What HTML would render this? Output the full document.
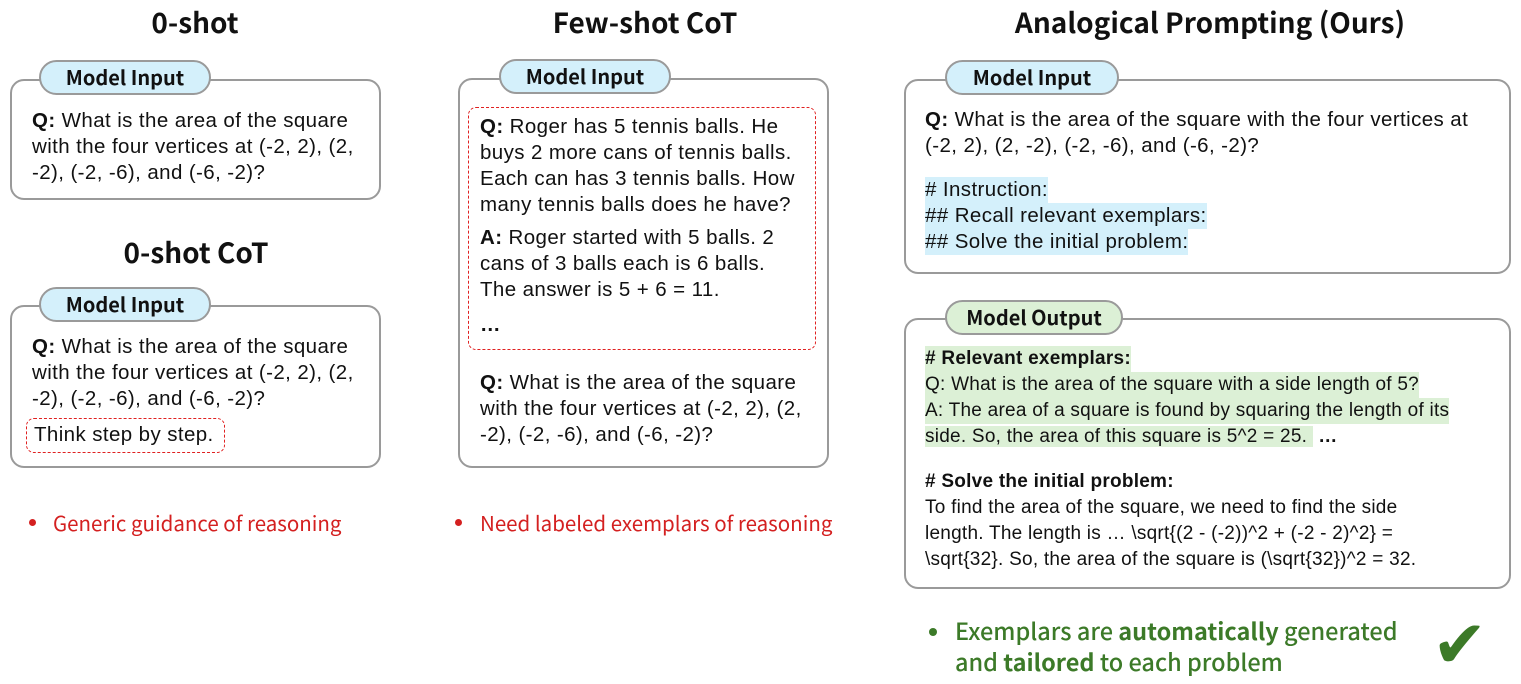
<!DOCTYPE html>
<html><head><meta charset="utf-8"><style>
body{margin:0;width:1521px;height:684px;background:#fff;position:relative;overflow:hidden;font-family:"Liberation Sans",Arial,sans-serif;color:#111}
.a{position:absolute}
.t{position:absolute;font-family:"Noto Sans CJK JP","Liberation Sans",sans-serif;font-weight:bold;font-size:28px;transform:translateX(-50%);white-space:nowrap;line-height:1}
.box{position:absolute;border:2.5px solid #9a9a9a;border-radius:14px;box-sizing:border-box;background:#fff}
.pill{position:absolute;border:2.5px solid #9a9a9a;border-radius:18px;box-sizing:border-box;background:#d4f0fb;font-family:"Noto Sans CJK JP","Liberation Sans",sans-serif;font-weight:bold;font-size:20px;text-align:center;line-height:29px}
.g{background:#dcf0d6}
.l{position:absolute;font-size:20.5px;letter-spacing:0.4px;white-space:nowrap;line-height:25px}
.o{font-size:19px;letter-spacing:0.25px}
.hb{background:#d4f0fb}.hg{background:#dcf0d6}
.dash{position:absolute;border:1.8px dashed #e02020;border-radius:8px;box-sizing:border-box}
.bul{position:absolute;font-family:"Noto Sans CJK JP","Liberation Sans",sans-serif;font-size:20.5px;color:#d42020;white-space:nowrap;line-height:30px}
.dot{position:absolute;width:7px;height:7px;border-radius:50%}
.gr{color:#3c7a28;font-size:23.5px;font-weight:500}
</style></head><body>
<div class="t" style="left:195px;top:8px">0-shot</div>
<div class="t" style="left:645px;top:8px">Few-shot CoT</div>
<div class="t" style="left:1210px;top:8px">Analogical Prompting (Ours)</div>
<div class="t" style="left:196px;top:238px">0-shot CoT</div>

<div class="box" style="left:10px;top:79px;width:371px;height:121px"></div>
<div class="pill" style="left:39px;top:60px;width:172px;height:35px">Model Input</div>
<div class="l" style="left:32px;top:108px"><b>Q:</b> What is the area of the square</div>
<div class="l" style="left:32px;top:134px">with the four vertices at (-2, 2), (2,</div>
<div class="l" style="left:32px;top:160px">-2), (-2, -6), and (-6, -2)?</div>

<div class="box" style="left:10px;top:305px;width:371px;height:163px"></div>
<div class="pill" style="left:39px;top:287px;width:172px;height:35px">Model Input</div>
<div class="l" style="left:32px;top:334px"><b>Q:</b> What is the area of the square</div>
<div class="l" style="left:32px;top:360px">with the four vertices at (-2, 2), (2,</div>
<div class="l" style="left:32px;top:386px">-2), (-2, -6), and (-6, -2)?</div>
<div class="dash" style="left:26px;top:418px;width:199px;height:35px"></div>
<div class="l" style="left:34px;top:422px">Think step by step.</div>
<div class="dot" style="left:29px;top:519px;background:#d42020"></div>
<div class="bul" style="left:53px;top:507px">Generic guidance of reasoning</div>

<div class="box" style="left:458px;top:78px;width:371px;height:390px"></div>
<div class="pill" style="left:499px;top:59px;width:172px;height:35px">Model Input</div>
<div class="dash" style="left:468px;top:107px;width:348px;height:243px"></div>
<div class="l" style="left:480px;top:114px"><b>Q:</b> Roger has 5 tennis balls. He</div>
<div class="l" style="left:480px;top:140px">buys 2 more cans of tennis balls.</div>
<div class="l" style="left:480px;top:166px">Each can has 3 tennis balls. How</div>
<div class="l" style="left:480px;top:192px">many tennis balls does he have?</div>
<div class="l" style="left:480px;top:225px"><b>A:</b> Roger started with 5 balls. 2</div>
<div class="l" style="left:480px;top:251px">cans of 3 balls each is 6 balls.</div>
<div class="l" style="left:480px;top:277px">The answer is 5 + 6 = 11.</div>
<div class="l" style="left:480px;top:312px"><b>…</b></div>
<div class="l" style="left:480px;top:370px"><b>Q:</b> What is the area of the square</div>
<div class="l" style="left:480px;top:396px">with the four vertices at (-2, 2), (2,</div>
<div class="l" style="left:480px;top:422px">-2), (-2, -6), and (-6, -2)?</div>
<div class="dot" style="left:455px;top:519px;background:#d42020"></div>
<div class="bul" style="left:480px;top:507px">Need labeled exemplars of reasoning</div>

<div class="box" style="left:904px;top:79px;width:607px;height:195px"></div>
<div class="pill" style="left:945px;top:60px;width:174px;height:35px">Model Input</div>
<div class="l" style="left:925px;top:107px"><b>Q:</b> What is the area of the square with the four vertices at</div>
<div class="l" style="left:925px;top:133px">(-2, 2), (2, -2), (-2, -6), and (-6, -2)?</div>
<div class="l hb" style="left:925px;top:177px;line-height:26px">#&nbsp;Instruction:</div>
<div class="l hb" style="left:925px;top:203px;line-height:26px">## Recall relevant exemplars:</div>
<div class="l hb" style="left:925px;top:229px;line-height:26px">## Solve the initial problem:</div>

<div class="box" style="left:904px;top:318px;width:607px;height:271px"></div>
<div class="pill g" style="left:945px;top:300px;width:178px;height:35px">Model Output</div>
<div class="l o hg" style="left:925px;top:346px;line-height:26px"><b># Relevant exemplars:</b></div>
<div class="l o hg" style="left:925px;top:372px;line-height:26px">Q: What is the area of the square with a side length of 5?</div>
<div class="l o hg" style="left:925px;top:398px;line-height:26px">A: The area of a square is found by squaring the length of its</div>
<div class="l o" style="left:925px;top:424px;line-height:26px"><span class="hg">side. So, the area of this square is 5^2 = 25.&nbsp;</span> <b>…</b></div>
<div class="l o" style="left:925px;top:469px"><b># Solve the initial problem:</b></div>
<div class="l o" style="left:925px;top:495px">To find the area of the square, we need to find the side</div>
<div class="l o" style="left:925px;top:521px">length. The length is … \sqrt{(2 - (-2))^2 + (-2 - 2)^2} =</div>
<div class="l o" style="left:925px;top:547px">\sqrt{32}. So, the area of the square is (\sqrt{32})^2 = 32.</div>

<div class="dot" style="left:929px;top:628px;background:#3c7a28;width:8px;height:8px"></div>
<div class="bul gr" style="left:955px;top:615px">Exemplars are <b>automatically</b> generated</div>
<div class="bul gr" style="left:955px;top:646px">and <b>tailored</b> to each problem</div>
<div class="a" style="left:1432px;top:612px;font-size:66px;color:#3c7a28;line-height:1;font-family:'DejaVu Sans',sans-serif">✔</div>
</body></html>
